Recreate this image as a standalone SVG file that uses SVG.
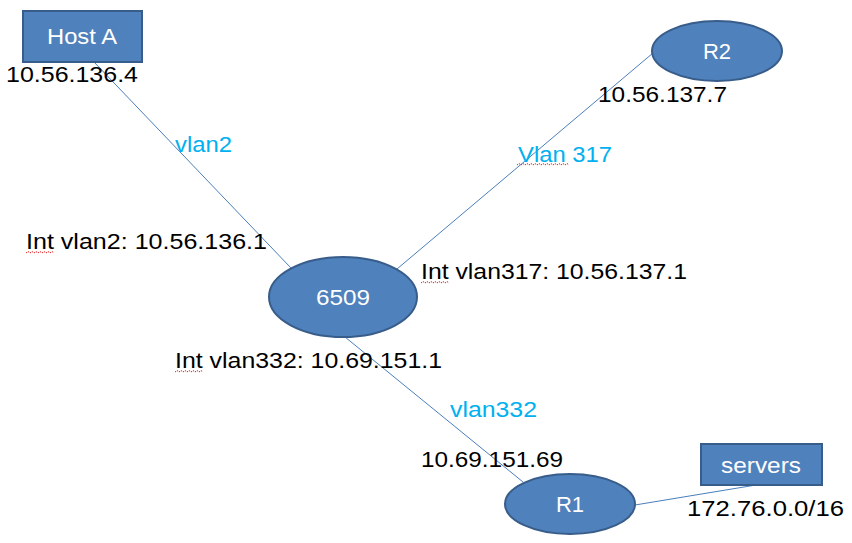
<svg xmlns="http://www.w3.org/2000/svg" width="852" height="543" viewBox="0 0 852 543">
<style>
.shape{fill:#4F81BD;stroke:#385D8A;stroke-width:2}
.nl{font-family:"Liberation Sans",Arial,sans-serif;font-size:22px;fill:#ffffff;text-anchor:middle}
.lbl{font-family:"Liberation Sans",Arial,sans-serif;font-size:22px;fill:#000000}
.vl{font-family:"Liberation Sans",Arial,sans-serif;font-size:22px;fill:#00B0F0}
.conn{stroke:#4A7EBB;stroke-width:1;fill:none}
.sq{stroke:#E02020;stroke-width:1;fill:none;stroke-dasharray:1.5 1}
</style>
<rect width="852" height="543" fill="#ffffff"/>
<g id="connectors">
<line class="conn" x1="94" y1="62" x2="291" y2="268"/>
<line class="conn" x1="653" y1="53" x2="397" y2="269"/>
<line class="conn" x1="345" y1="337" x2="523" y2="482"/>
<line class="conn" x1="635" y1="505" x2="762" y2="484"/>
</g>
<g id="hostA">
<rect class="shape" x="23" y="11" width="119" height="51"/>
<text class="nl" x="82" y="44" textLength="70" lengthAdjust="spacingAndGlyphs">Host A</text>
</g>
<g id="r2">
<ellipse class="shape" cx="717" cy="51" rx="65" ry="30"/>
<text class="nl" x="717" y="59">R2</text>
</g>
<g id="sw6509">
<ellipse class="shape" cx="343" cy="297" rx="74" ry="40"/>
<text class="nl" x="343" y="305" textLength="54" lengthAdjust="spacingAndGlyphs">6509</text>
</g>
<g id="r1">
<ellipse class="shape" cx="570" cy="504" rx="65" ry="30"/>
<text class="nl" x="570" y="512">R1</text>
</g>
<g id="servers">
<rect class="shape" x="701" y="444" width="121" height="41"/>
<text class="nl" x="761" y="473" textLength="80" lengthAdjust="spacingAndGlyphs">servers</text>
</g>
<g id="labels">
<text class="lbl" x="6" y="82" textLength="132" lengthAdjust="spacingAndGlyphs">10.56.136.4</text>
<text class="lbl" x="598" y="102" textLength="129" lengthAdjust="spacingAndGlyphs">10.56.137.7</text>
<text class="lbl" x="26" y="249" textLength="241" lengthAdjust="spacingAndGlyphs">Int vlan2: 10.56.136.1</text>
<text class="lbl" x="421" y="279" textLength="266" lengthAdjust="spacingAndGlyphs">Int vlan317: 10.56.137.1</text>
<text class="lbl" x="175" y="368" textLength="267" lengthAdjust="spacingAndGlyphs">Int vlan332: 10.69.151.1</text>
<text class="lbl" x="421" y="467" textLength="142" lengthAdjust="spacingAndGlyphs">10.69.151.69</text>
<text class="lbl" x="687" y="516" textLength="157" lengthAdjust="spacingAndGlyphs">172.76.0.0/16</text>
<text class="vl" x="175" y="152" textLength="57" lengthAdjust="spacingAndGlyphs">vlan2</text>
<text class="vl" x="518" y="162" textLength="94" lengthAdjust="spacingAndGlyphs">Vlan 317</text>
<text class="vl" x="450" y="417" textLength="87" lengthAdjust="spacingAndGlyphs">vlan332</text>
</g>
<g id="spellmarks">
<path class="sq" d="M26 253 l2 -1.5 l2 1.5 l2 -1.5 l2 1.5 l2 -1.5 l2 1.5 l2 -1.5 l2 1.5 l2 -1.5 l2 1.5 l2 -1.5 l2 1.5 l2 -1.5 l2 1.5"/>
<path class="sq" d="M421 283 l2 -1.5 l2 1.5 l2 -1.5 l2 1.5 l2 -1.5 l2 1.5 l2 -1.5 l2 1.5 l2 -1.5 l2 1.5 l2 -1.5 l2 1.5 l2 -1.5 l2 1.5"/>
<path class="sq" d="M175 372 l2 -1.5 l2 1.5 l2 -1.5 l2 1.5 l2 -1.5 l2 1.5 l2 -1.5 l2 1.5 l2 -1.5 l2 1.5 l2 -1.5 l2 1.5 l2 -1.5 l2 1.5"/>
<path class="sq" d="M517 165 l2 -1.5 l2 1.5 l2 -1.5 l2 1.5 l2 -1.5 l2 1.5 l2 -1.5 l2 1.5 l2 -1.5 l2 1.5 l2 -1.5 l2 1.5 l2 -1.5 l2 1.5 l2 -1.5 l2 1.5 l2 -1.5 l2 1.5 l2 -1.5 l2 1.5 l2 -1.5 l2 1.5 l2 -1.5 l2 1.5 l2 -1.5 l2 1.5"/>
</g>
</svg>
